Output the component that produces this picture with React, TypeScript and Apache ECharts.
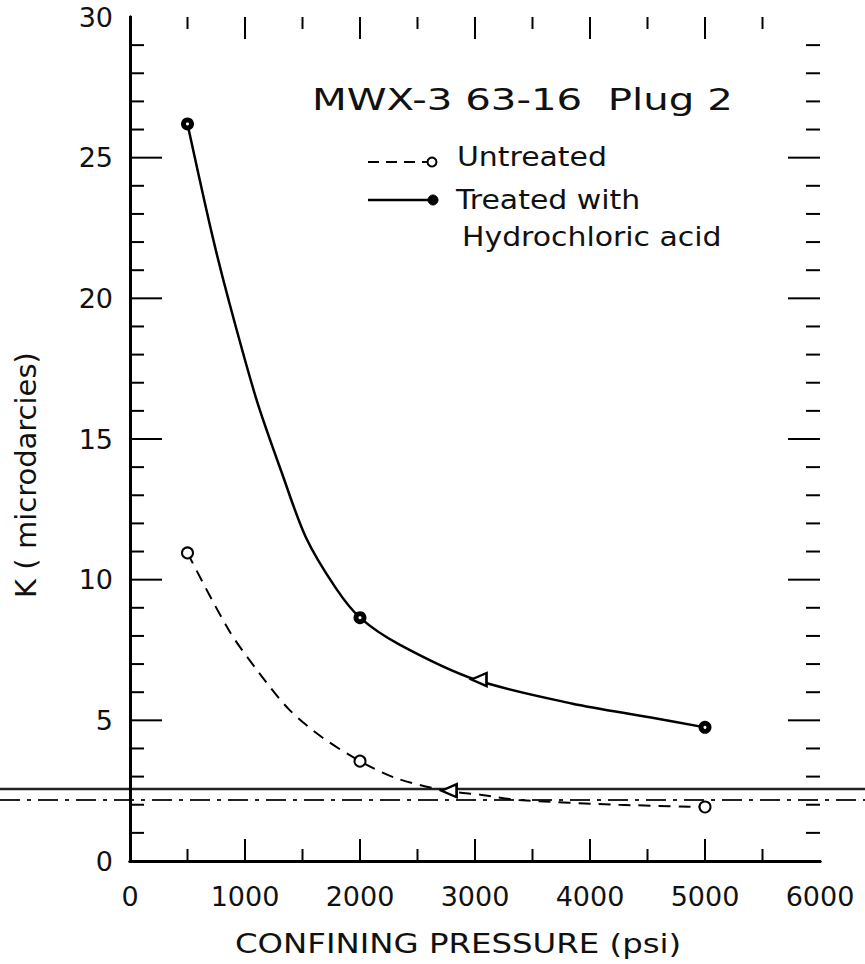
import React, { useEffect, useRef } from "react";
import * as echarts from "echarts";

// ---- data ----
const xTicks = [0, 1000, 2000, 3000, 4000, 5000, 6000];
const yTicks = [0, 5, 10, 15, 20, 25, 30];
// inward tick marks on the frame (every 500 psi, every 1 microdarcy)
const xTickMarks = [500, 1000, 1500, 2000, 2500, 3000, 3500, 4000, 4500, 5000, 5500];
const yTickMarks = [1, 2, 3, 4, 5, 6, 7, 8, 9, 10, 11, 12, 13, 14, 15, 16, 17, 18, 19, 20, 21, 22, 23, 24, 25, 26, 27, 28, 29];

// traced smooth curves (psi, microdarcies)
const treatedCurveP = [500, 712, 860, 1100, 1320, 1530, 1790, 2000, 2340, 3000, 3840, 4530, 5000];
const treatedCurveK = [26.2, 22.3, 19.9, 16.4, 13.8, 11.5, 9.7, 8.65, 7.7, 6.45, 5.6, 5.1, 4.75];
const untreatedCurveP = [500, 860, 1120, 1380, 1670, 2000, 2310, 2740, 3060, 3380, 4250, 5000];
const untreatedCurveK = [10.95, 8.2, 6.7, 5.4, 4.4, 3.55, 2.95, 2.5, 2.35, 2.17, 2.0, 1.92];

// measured points
const treatedP = [500, 2000, 5000];
const treatedK = [26.2, 8.65, 4.75];
const untreatedP = [500, 2000, 5000];
const untreatedK = [10.95, 3.55, 1.92];
const triangleP = [3000, 2740];
const triangleK = [6.45, 2.5];

const titleText = "MWX-3 63-16  Plug 2";
const legendUntreated = "Untreated";
const legendTreated1 = "Treated with";
const legendTreated2 = "Hydrochloric acid";
const xTitle = "CONFINING PRESSURE (psi)";
const yTitle = "K ( microdarcies)";

const FONT = "DejaVu Sans";
const INK = "#111";

const zip = (a: number[], b: number[]) => a.map((v, i) => [v, b[i]]);

export default function App() {
  const ref = useRef<HTMLDivElement>(null);
  useEffect(() => {
    if (!ref.current) return;
    const chart = echarts.init(ref.current, null, { renderer: "svg" });
    const xMin = xTicks[0];
    const xMax = xTicks[xTicks.length - 1];
    const yMin = yTicks[0];
    const yMax = yTicks[yTicks.length - 1];
    const labelStyle = { color: INK, fontSize: 27, fontFamily: FONT, formatter: (v: number) => String(v) };
    const frameX = (position: string, label: boolean) => ({
      type: "value", position, min: xMin, max: xMax, interval: 1000,
      splitLine: { show: false },
      axisLine: { show: true, lineStyle: { color: "#000", width: 3 } },
      axisTick: { show: false },
      minorTick: { show: false },
      axisLabel: label ? { ...labelStyle, margin: 22 } : { show: false },
    });
    const frameY = (position: string, label: boolean) => ({
      type: "value", position, min: yMin, max: yMax, interval: 5,
      splitLine: { show: false },
      axisLine: { show: true, lineStyle: { color: "#000", width: 3 } },
      axisTick: { show: false },
      minorTick: { show: false },
      axisLabel: label ? { ...labelStyle, margin: 17 } : { show: false },
    });
    // vertical ticks on bottom/top frame: rows [psi, K at frame edge]
    const xTickRows = [...xTickMarks.map((v) => [v, yMin]), ...xTickMarks.map((v) => [v, yMax])];
    // horizontal ticks on left/right frame: rows [psi at frame edge, K]
    const yTickRows = [...yTickMarks.map((v) => [xMin, v]), ...yTickMarks.map((v) => [xMax, v])];
    const xTickSeries = {
      type: "custom",
      name: "ticks-x",
      z: 10,
      data: xTickRows,
      renderItem: (_p: any, api: any) => {
        const xv = api.value(0);
        const yv = api.value(1);
        const len = xv % 1000 === 0 ? 22 : 12;
        const c = api.coord([xv, yv]);
        const y2 = yv === yMin ? c[1] - len : c[1] + len;
        return { type: "line", shape: { x1: c[0], y1: c[1], x2: c[0], y2 }, style: { stroke: "#000", lineWidth: 2 } };
      },
    };
    const yTickSeries = {
      type: "custom",
      name: "ticks-y",
      z: 10,
      data: yTickRows,
      renderItem: (_p: any, api: any) => {
        const xv = api.value(0);
        const yv = api.value(1);
        const len = yv % 5 === 0 ? 32 : 14;
        const c = api.coord([xv, yv]);
        const x2 = xv === xMin ? c[0] + len : c[0] - len;
        return { type: "line", shape: { x1: c[0], y1: c[1], x2, y2: c[1] }, style: { stroke: "#000", lineWidth: 2 } };
      },
    };
    chart.setOption({
      animation: false,
      grid: { left: 130, top: 17, right: 45, bottom: 103 },
      xAxis: [frameX("bottom", true), frameX("top", false)],
      yAxis: [frameY("left", true), frameY("right", false)],
      series: [
        xTickSeries,
        yTickSeries,
        {
          type: "line", name: "Treated curve", data: zip(treatedCurveP, treatedCurveK),
          smooth: 0.3, showSymbol: false, lineStyle: { color: "#000", width: 2.5 },
        },
        {
          type: "line", name: "Untreated curve", data: zip(untreatedCurveP, untreatedCurveK),
          smooth: 0.3, showSymbol: false, lineStyle: { color: "#000", width: 2, type: [12, 8] },
        },
        {
          type: "scatter", name: "Treated", data: zip(treatedP, treatedK), symbol: "circle",
          symbolSize: 13, itemStyle: { color: "#000", opacity: 1 }, z: 5,
        },
        {
          type: "scatter", name: "Treated centre", data: zip(treatedP, treatedK), symbol: "circle",
          symbolSize: 3, itemStyle: { color: "#fff", opacity: 1 }, z: 6,
        },
        {
          type: "scatter", name: "Untreated", data: zip(untreatedP, untreatedK), symbol: "circle",
          symbolSize: 11, itemStyle: { color: "#fff", borderColor: "#000", borderWidth: 2, opacity: 1 }, z: 5,
        },
        {
          type: "scatter", name: "Triangle", data: zip(triangleP, triangleK), symbol: "triangle",
          symbolSize: [13, 15], symbolRotate: 90, symbolOffset: [4, 0],
          itemStyle: { color: "#fff", borderColor: "#000", borderWidth: 2.5, opacity: 1 }, z: 5,
        },
      ],
    });
    chart.setOption({
      graphic: [
        // scan artifact lines crossing the page
        { type: "line", shape: { x1: 0, y1: 789, x2: 865, y2: 789 }, style: { stroke: "#222", lineWidth: 2.5 } },
        { type: "line", shape: { x1: 0, y1: 800, x2: 865, y2: 800 }, style: { stroke: "#222", lineWidth: 2, lineDash: [20, 7, 4, 7] } },
        // title
        { type: "text", x: 312, y: 99, scaleX: 1.3, style: { text: titleText, fontSize: 31, fontFamily: FONT, fill: INK, align: "left", verticalAlign: "middle" } },
        // legend
        { type: "line", shape: { x1: 368, y1: 162, x2: 428, y2: 162 }, style: { stroke: "#000", lineWidth: 2, lineDash: [11, 7] } },
        { type: "circle", shape: { cx: 432, cy: 162, r: 4.5 }, style: { fill: "#fff", stroke: "#000", lineWidth: 2 } },
        { type: "line", shape: { x1: 368, y1: 200, x2: 430, y2: 200 }, style: { stroke: "#000", lineWidth: 2.5 } },
        { type: "circle", shape: { cx: 433, cy: 200, r: 5 }, style: { fill: "#000", stroke: "#000", lineWidth: 1 } },
        { type: "text", x: 457, y: 157, scaleX: 1.15, style: { text: legendUntreated, fontSize: 26, fontFamily: FONT, fill: INK, align: "left", verticalAlign: "middle" } },
        { type: "text", x: 456, y: 200, scaleX: 1.15, style: { text: legendTreated1, fontSize: 26, fontFamily: FONT, fill: INK, align: "left", verticalAlign: "middle" } },
        { type: "text", x: 462, y: 237, scaleX: 1.15, style: { text: legendTreated2, fontSize: 26, fontFamily: FONT, fill: INK, align: "left", verticalAlign: "middle" } },
        // axis titles
        { type: "text", x: 235, y: 943, scaleX: 1.2, style: { text: xTitle, fontSize: 27, fontFamily: FONT, fill: INK, align: "left", verticalAlign: "middle" } },
        { type: "text", x: 26, y: 475, rotation: Math.PI / 2, style: { text: yTitle, fontSize: 29, fontFamily: FONT, fill: INK, align: "center", verticalAlign: "middle" } },
      ],
    });
    return () => chart.dispose();
  }, []);
  return (
    <div style={{ position: "absolute", left: 0, top: 0, width: 865, height: 964, background: "#fff" }}>
      <div ref={ref} style={{ width: 865, height: 964 }} />
    </div>
  );
}
